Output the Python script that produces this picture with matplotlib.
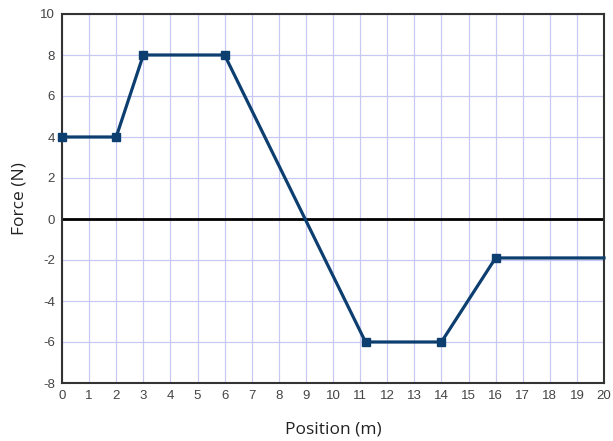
import numpy as np
import matplotlib.pyplot as plt

plt.rcParams['axes.unicode_minus'] = False

# data
position = [0, 2, 3, 6, 11.2, 14, 16]
force = [4, 4, 8, 8, -6, -6, -1.9]
x_end = 20

x_ticks = list(range(0, 21))
y_ticks = list(range(-8, 11, 2))

fig = plt.figure(figsize=(6.13, 4.41), dpi=100)
ax = fig.add_axes([62/613, 1 - 383/441, (604-62)/613, (383-14)/441])

ax.set_xlim(0, 20)
ax.set_ylim(-8, 10)
ax.set_xticks(x_ticks)
ax.set_yticks(y_ticks)
ax.grid(True, color='#c8c8f4', linewidth=0.9)
ax.set_axisbelow(True)

# zero line
ax.axhline(0, color='black', linewidth=2)

# force curve, last section carries on to x = 20 without a marker
ax.plot(position + [x_end], force + [force[-1]], color='#0c3e70', linewidth=2.3,
        clip_on=False, zorder=3)
ax.plot(position, force, linestyle='none', marker='s', markersize=5.5,
        color='#0c3e70', clip_on=False, zorder=4)

for s in ax.spines.values():
    s.set_color('#333333')
    s.set_linewidth(1.5)

ax.tick_params(length=0, pad=5, labelsize=9.5, labelcolor='#444444')
for lab in ax.get_xticklabels() + ax.get_yticklabels():
    lab.set_family('Liberation Sans')

ax.set_xlabel('Position (m)', fontsize=12.5, family='Open Sans', color='#222222', labelpad=14)
ax.set_ylabel('Force (N)', fontsize=12.5, family='Open Sans', color='#222222', labelpad=9)

fig.savefig('out.png', dpi=100)
